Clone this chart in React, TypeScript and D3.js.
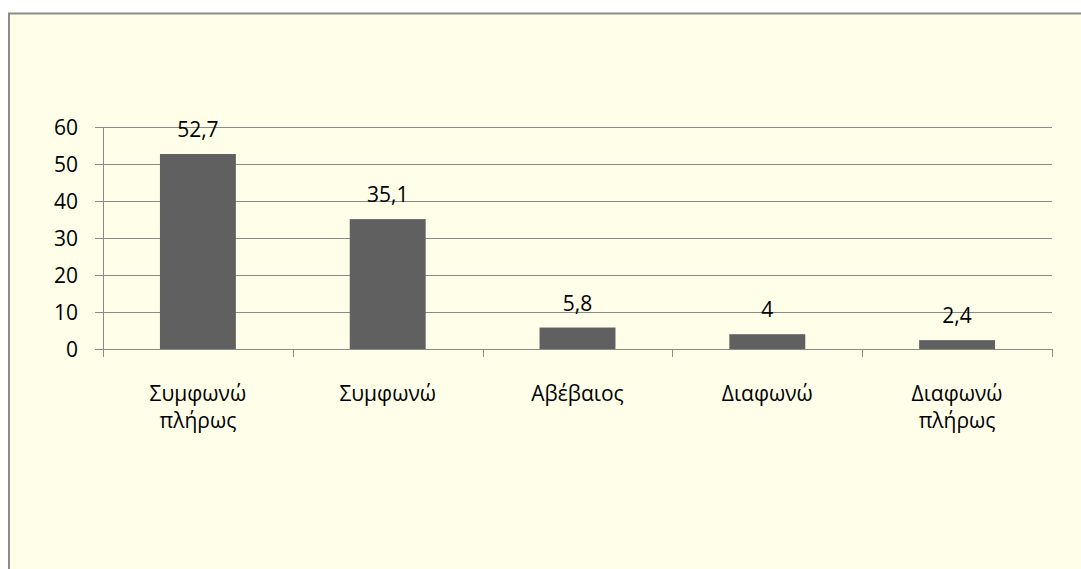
import React from "react";
import * as d3 from "d3";

const categories: string[][] = [
  ["Συμφωνώ", "πλήρως"],
  ["Συμφωνώ"],
  ["Αβέβαιος"],
  ["Διαφωνώ"],
  ["Διαφωνώ", "πλήρως"],
];
const values: number[] = [52.7, 35.1, 5.8, 4, 2.4];
const valueLabels: string[] = ["52,7", "35,1", "5,8", "4", "2,4"];
const yTicks: number[] = [0, 10, 20, 30, 40, 50, 60];

const W = 1081;
const H = 569;
const FONT = "'Open Sans', 'Noto Sans', sans-serif";
const FS = 21;

export default function App() {
  const keys = categories.map((_, i) => String(i));
  const x = d3.scaleBand<string>().domain(keys).range([103, 1052]).paddingInner(0).paddingOuter(0);
  const y = d3.scaleLinear().domain([0, 60]).range([349, 127]);
  const bw = x.bandwidth() * 0.4;
  const grid = "#8a8a8a";
  const edges = keys.map((k) => x(k) as number).concat([1052]);

  return (
    <svg width={W} height={H} style={{ position: "absolute", left: 0, top: 0, background: "#ffffff" }} fontFamily={FONT}>
      <rect x={9} y={13.5} width={W} height={H} fill="#fefee9" stroke="#8c8c8c" strokeWidth={2} />
      {yTicks.map((t) => (
        <line key={"g" + t} x1={95} x2={1052} y1={Math.round(y(t)) + 0.5} y2={Math.round(y(t)) + 0.5} stroke={grid} strokeWidth={1} />
      ))}
      <line x1={103.5} x2={103.5} y1={127} y2={357} stroke={grid} strokeWidth={1} />
      {edges.map((e, i) => (
        <line key={"ct" + i} x1={Math.round(e) + 0.5} x2={Math.round(e) + 0.5} y1={349} y2={357} stroke={grid} strokeWidth={1} />
      ))}
      {yTicks.map((t) => (
        <text key={"yl" + t} x={78} y={y(t)} dy="0.36em" textAnchor="end" fontSize={FS} fill="#000">
          {t}
        </text>
      ))}
      {values.map((v, i) => {
        const cx = (x(keys[i]) as number) + x.bandwidth() / 2;
        return (
          <g key={"b" + i}>
            <rect x={cx - bw / 2} y={y(v)} width={bw} height={y(0) - y(v)} fill="#606060" />
            <text x={cx} y={y(v) - 17} textAnchor="middle" fontSize={FS} fill="#000">
              {valueLabels[i]}
            </text>
            {categories[i].map((line, j) => (
              <text key={j} x={cx} y={401 + j * 27} textAnchor="middle" fontSize={FS} fill="#000">
                {line}
              </text>
            ))}
          </g>
        );
      })}
    </svg>
  );
}
